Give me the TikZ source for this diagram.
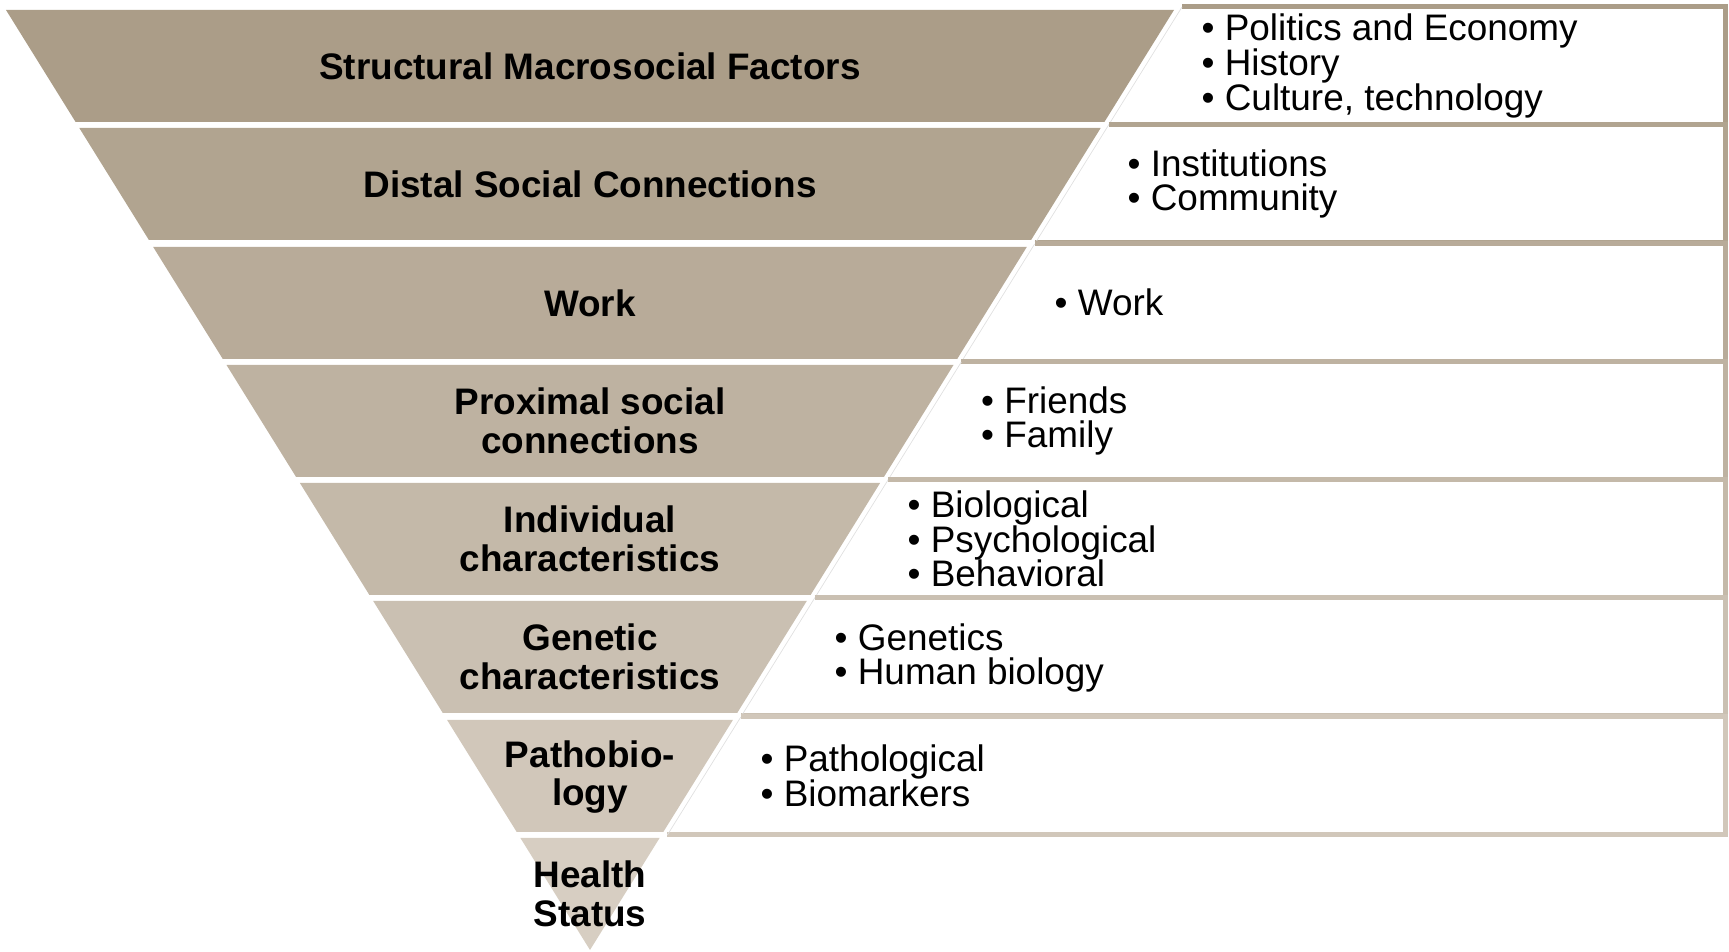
\documentclass[tikz,border=0pt]{standalone}
\usepackage{fontspec}
\setmainfont{Liberation Sans}
\usepackage{xcolor}
\definecolor{lev1}{RGB}{171,157,136}
\definecolor{lev2}{RGB}{177,164,144}
\definecolor{lev3}{RGB}{184,171,153}
\definecolor{lev4}{RGB}{190,178,161}
\definecolor{lev5}{RGB}{196,185,169}
\definecolor{lev6}{RGB}{202,192,178}
\definecolor{lev7}{RGB}{209,199,186}
\definecolor{lev8}{RGB}{215,206,194}
\newcommand{\bu}{\textbullet\ }

\begin{document}
\begin{tikzpicture}[x=0.1mm, y=-0.1mm,
  lab/.style={font=\fontsize{10.5}{11}\selectfont\bfseries, align=center, inner sep=0pt},
  lst/.style={font=\fontsize{10.5}{9.9}\selectfont, align=left, anchor=west, inner sep=0pt},
  rowbox/.style={line width=0.5mm},
  seam/.style={black!12, line width=0.2pt}]
% \draw [help lines,color=green]  (0,0) grid[step=100] (1729,952);
\useasboundingbox (0,0) rectangle (1729,952);
%%%%%%%%% level 1
\draw [rowbox, lev1] (1182,7) -- (1725,7) -- (1725,125) -- (1108.6,125);
\draw [seam] (1182,7) -- (1108.6,125);
\fill [lev1] (6,10) -- (1174,10) -- (1104.4,122) -- (75.6,122) -- cycle;
\node [lab] (macro) at (590,66) {Structural Macrosocial Factors};
\node [lst] (macrolist) at (1201,66) {\bu Politics and Economy\\\bu History\\\bu Culture, technology};
%%%%%%%%% level 2
\draw [rowbox, lev2] (1108.6,125) -- (1725,125) -- (1725,243) -- (1035.3,243);
\draw [seam] (1108.6,125) -- (1035.3,243);
\fill [lev2] (79.3,128) -- (1100.7,128) -- (1031.1,240) -- (148.9,240) -- cycle;
\node [lab] (distal) at (590,184) {Distal Social Connections};
\node [lst] (distallist) at (1127,184) {\bu Institutions\\\bu Community};
%%%%%%%%% level 3
\draw [rowbox, lev3] (1034.6,244) -- (1725,244) -- (1725,362) -- (961.3,362);
\draw [seam] (1034.6,244) -- (961.3,362);
\fill [lev3] (153.2,247) -- (1026.8,247) -- (957.2,359) -- (222.8,359) -- cycle;
\node [lab] (work) at (590,303) {Work};
\node [lst] (worklist) at (1054,302) {\bu Work};
%%%%%%%%% level 4
\draw [rowbox, lev4] (961.3,362) -- (1725,362) -- (1725,480) -- (888,480);
\draw [seam] (961.3,362) -- (888,480);
\fill [lev4] (226.5,365) -- (953.5,365) -- (883.9,477) -- (296.1,477) -- cycle;
\node [lab] (proximal) at (590,421) {Proximal social\\connections};
\node [lst] (proximallist) at (980.5,421) {\bu Friends\\\bu Family};
%%%%%%%%% level 5
\draw [rowbox, lev5] (888,480) -- (1725,480) -- (1725,598) -- (814.7,598);
\draw [seam] (888,480) -- (814.7,598);
\fill [lev5] (299.9,483) -- (880.1,483) -- (810.6,595) -- (369.4,595) -- cycle;
\node [lab] (indiv) at (590,539) {Individual\\characteristics};
\node [lst] (indivlist) at (907,539) {\bu Biological\\\bu Psychological\\\bu Behavioral};
%%%%%%%%% level 6
\draw [rowbox, lev6] (814.7,598) -- (1725,598) -- (1725,716) -- (741.4,716);
\draw [seam] (814.7,598) -- (741.4,716);
\fill [lev6] (373.2,601) -- (806.8,601) -- (737.2,713) -- (442.8,713) -- cycle;
\node [lab] (genetic) at (590,657) {Genetic\\characteristics};
\node [lst] (geneticlist) at (834,658) {\bu Genetics\\\bu Human biology};
%%%%%%%%% level 7
\draw [rowbox, lev7] (740.8,717) -- (1725,717) -- (1725,835) -- (667.4,835);
\draw [seam] (740.8,717) -- (667.4,835);
\fill [lev7] (447.1,720) -- (732.9,720) -- (663.3,832) -- (516.7,832) -- cycle;
\node [lab] (patho) at (590,777) {Pathobio-\\logy};
\node [lst] (patholist) at (760,776) {\bu Pathological\\\bu Biomarkers};
%%%%%%%%% tip
\fill [lev8] (520.4,838) -- (659.6,838) -- (590,950) -- cycle;
\node [lab] (health) at (590,894) {Health\\Status};
\end{tikzpicture}
\end{document}
